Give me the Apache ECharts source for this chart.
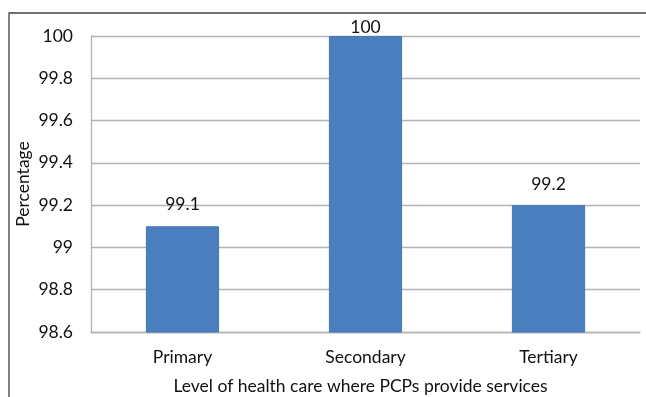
<!DOCTYPE html>
<html><head><meta charset="utf-8">
<script src="https://cdn.jsdelivr.net/npm/echarts@6/dist/echarts.min.js"></script>
<style>html,body{margin:0;padding:0;background:#fff}#c{width:646px;height:397px}</style>
</head><body><div id="c"></div>
<script>
const categories = ['Primary', 'Secondary', 'Tertiary'];
const values = [99.1, 100, 99.2];
const labelDistances = [13, 0, 12];
const yTicks = { min: 98.6, max: 100, interval: 0.2 };
const xAxisTitle = 'Level of health care where PCPs provide services';
const yAxisTitle = 'Percentage';

const FONT = 'Lato';
const FS = 17.5;
const chart = echarts.init(document.getElementById('c'), null, { renderer: 'canvas' });
chart.setOption({
  animation: false,
  textStyle: { fontFamily: FONT },
  graphic: [{
    type: 'rect', shape: { x: 9, y: 13, width: 660, height: 420 },
    style: { fill: 'none', stroke: '#404040', lineWidth: 1.3 }, silent: true, z: -1
  }],
  grid: { left: 91, right: 6, top: 36, bottom: 65, containLabel: false, outerBoundsMode: 'none' },
  xAxis: {
    type: 'category', data: categories,
    axisLine: { show: true, lineStyle: { color: '#b3b3b3', width: 1.3 } },
    axisTick: { show: false },
    axisLabel: { color: '#111', fontSize: FS, fontFamily: FONT, margin: 16 },
    name: xAxisTitle, nameLocation: 'middle', nameGap: 45, nameMoveOverlap: false,
    nameTextStyle: { color: '#111', fontSize: FS, fontFamily: FONT, padding: [0, 10, 0, 0] }
  },
  yAxis: {
    type: 'value', min: yTicks.min, max: yTicks.max, interval: yTicks.interval,
    axisLine: { show: true, lineStyle: { color: '#b3b3b3', width: 1.3 } },
    axisTick: { show: false },
    splitLine: { lineStyle: { color: '#b3b3b3', width: 1.3 } },
    axisLabel: { color: '#111', fontSize: FS, fontFamily: FONT, margin: 18,
      formatter: v => String(+v.toFixed(1)) },
    name: yAxisTitle, nameLocation: 'middle', nameGap: 59, nameRotate: 90, nameMoveOverlap: false,
    nameTextStyle: { color: '#111', fontSize: FS, fontFamily: FONT }
  },
  series: [{
    type: 'bar', barWidth: '40%',
    data: values.map((v, i) => ({ value: v, label: { distance: labelDistances[i] } })),
    itemStyle: { color: '#4a7ebf', borderColor: '#4477b8', borderWidth: 1 },
    label: { show: true, position: 'top', color: '#111', fontSize: FS, fontFamily: FONT,
      formatter: p => String(p.value) }
  }]
});
</script></body></html>
